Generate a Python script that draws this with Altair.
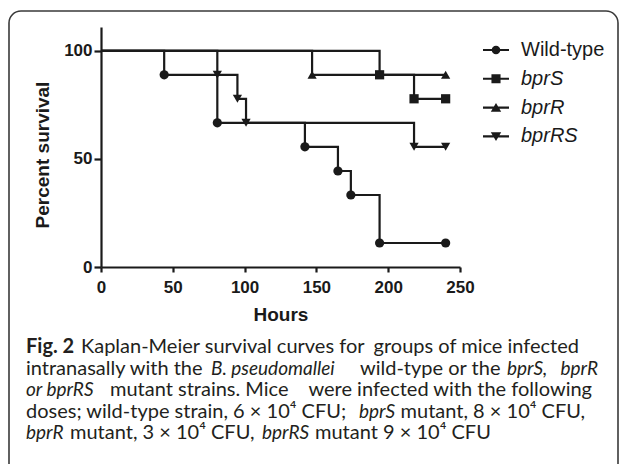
import altair as alt
import pandas as pd

# ---------------- data ----------------
series_names = ["Wild-type", "bprS", "bprR", "bprRS"]
wild_hours = [0, 44, 81, 142, 165, 174, 194, 240]
wild_surv = [100, 88.9, 66.7, 55.6, 44.4, 33.3, 11.1, 11.1]
bprS_hours = [0, 194, 218, 240]
bprS_surv = [100, 88.9, 77.8, 77.8]
bprR_hours = [0, 147, 240]
bprR_surv = [100, 88.9, 88.9]
bprRS_hours = [0, 81, 95, 101, 218, 240]
bprRS_surv = [100, 88.9, 77.8, 66.7, 55.6, 55.6]
x_ticks = [0, 50, 100, 150, 200, 250]
y_ticks = [0, 50, 100]
x_title = "Hours"
y_title = "Percent survival"

caption_segments = [
    ["Fig. 2", "Kaplan-Meier survival curves for", "groups of mice infected"],
    ["intranasally with the", "B. pseudomallei", "wild-type or the", "bprS,", "bprR"],
    ["or bprRS", "mutant strains. Mice", "were infected with the following"],
    ["doses; wild-type strain, 6 \u00d7 10\u2074 CFU;", "bprS", "mutant, 8 \u00d7 10\u2074 CFU,"],
    ["bprR", "mutant, 3 \u00d7 10\u2074 CFU,", "bprRS", "mutant 9 \u00d7 10\u2074 CFU"],
]

# ---------------- layout (page pixels) ----------------
PAD_L, PAD_T = 93, 19
PLOT_W, PLOT_H = 359, 240
SVG_W, SVG_H = 611, 456


def px(x):
    return x - 8 - PAD_L


def py(y):
    return y - 8 - PAD_T


caption_styles = [
    ["bold", "normal", "normal"],
    ["normal", "italic", "normal", "italic", "italic"],
    ["italic", "normal", "normal"],
    ["normal", "italic", "normal"],
    ["italic", "normal", "italic", "normal"],
]
caption_x = [
    [26, 81, 579],
    [26, 211, 360, 507, 598],
    [26, 110, 592],
    [26, 359, 585],
    [26, 70, 262, 315],
]
caption_align = [
    ["left", "left", "right"],
    ["left", "left", "left", "left", "right"],
    ["left", "left", "right"],
    ["left", "left", "right"],
    ["left", "left", "left", "left"],
]
caption_y = [353, 375, 396, 418, 439]

INK = "#1a1a1a"

rows = []
for name, hrs, sv in zip(series_names,
                         [wild_hours, bprS_hours, bprR_hours, bprRS_hours],
                         [wild_surv, bprS_surv, bprR_surv, bprRS_surv]):
    for i, (h, s) in enumerate(zip(hrs, sv)):
        rows.append({"series": name, "hours": h, "survival": s, "step": i})
df = pd.DataFrame(rows)

x_axis = alt.Axis(
    values=x_ticks, format="d", title=x_title, grid=False,
    domainColor=INK, domainWidth=2.2, tickColor=INK, tickWidth=2.2, tickSize=5,
    labelFont="Liberation Sans", labelFontWeight="bold", labelFontSize=17,
    labelColor=INK, labelPadding=7, labelFlush=False,
    titleFont="Liberation Sans", titleFontWeight="bold", titleFontSize=19,
    titleColor=INK, titleY=47, titleBaseline="middle",
)
y_axis = alt.Axis(
    values=y_ticks, format="d", title=y_title, grid=False,
    domainColor=INK, domainWidth=2.2, tickColor=INK, tickWidth=2.2, tickSize=7,
    labelFont="Liberation Sans", labelFontWeight="bold", labelFontSize=17,
    labelColor=INK, labelPadding=2, labelFlush=False,
    titleFont="Liberation Sans", titleFontWeight="bold", titleFontSize=19,
    titleColor=INK, titleX=px(42), titleY=py(154.5), titleBaseline="middle",
    titleAlign="center", titleAngle=270,
)

x_enc = alt.X("hours:Q", scale=alt.Scale(domain=[0, 250], nice=False), axis=x_axis)
y_enc = alt.Y("survival:Q", scale=alt.Scale(domain=[0, 111], nice=False), axis=y_axis)

lines = alt.Chart(df).mark_line(
    interpolate="step-after", color=INK, strokeWidth=2.2
).encode(x=x_enc, y=y_enc, detail="series:N", order="step:Q")

bar = "M-1,-0.08H1V0.08H-1Z"
marker_paths = [
    "M0.33,0A0.33,0.33 0 1,1 -0.33,0A0.33,0.33 0 1,1 0.33,0Z",
    "M-0.35,-0.35H0.35V0.35H-0.35Z",
    "M0,-0.35L0.4,0.31L-0.4,0.31Z",
    "M0,0.35L-0.4,-0.31L0.4,-0.31Z",
]
sym_expr = (
    f"datum.value === '{series_names[0]}' ? '{bar}{marker_paths[0]}' : "
    f"datum.value === '{series_names[1]}' ? '{bar}{marker_paths[1]}' : "
    f"datum.value === '{series_names[2]}' ? '{bar}{marker_paths[2]}' : "
    f"'{bar}{marker_paths[3]}'"
)

legend = alt.Legend(
    title=None, orient="none", legendX=px(483), legendY=py(50) - 13,
    symbolType={"expr": sym_expr}, symbolSize=676, symbolStrokeWidth=0,
    labelFont="Liberation Sans", labelFontSize=20, labelColor=INK,
    labelFontStyle={"expr": f"datum.value === '{series_names[0]}' ? 'normal' : 'italic'"},
    labelOffset=12, rowPadding=5.8, padding=0,
)

# shape scale listed in reverse order so that it stays separate from the legend scale
shape_names = series_names[::-1]
shape_marks = ["triangle-down", "triangle-up", "square", "circle"]

points = alt.Chart(df).transform_filter("datum.step > 0").mark_point(
    filled=True, opacity=1, size=85
).encode(
    x="hours:Q", y="survival:Q",
    shape=alt.Shape("series:N", scale=alt.Scale(domain=shape_names, range=shape_marks),
                    legend=None),
    color=alt.Color("series:N", scale=alt.Scale(
        domain=series_names, range=[INK] * 4), legend=legend),
)

one = alt.Data(values=[{"k": 1}])

border = alt.Chart(one).mark_rect(
    cornerRadius=12, fillOpacity=0, stroke="#3a3a3a", strokeWidth=1.6
).encode(x=alt.value(px(9)), x2=alt.value(px(618)),
         y=alt.value(py(11)), y2=alt.value(py(495)))

caption_layers = []
for segs, styles, xs, aligns, y in zip(caption_segments, caption_styles,
                                       caption_x, caption_align, caption_y):
    for seg, st, x, al in zip(segs, styles, xs, aligns):
        caption_layers.append(
            alt.Chart(one).mark_text(
                align=al, baseline="alphabetic", font="Lato",
                fontSize=19 if st == "italic" else 20,
                fontStyle="italic" if st == "italic" else "normal",
                fontWeight="bold" if st == "bold" else "normal",
                color="#231f20",
            ).encode(x=alt.value(px(x)), y=alt.value(py(y)), text=alt.value(seg))
        )

chart = alt.layer(border, lines, points, *caption_layers).properties(
    width=PLOT_W, height=PLOT_H,
    autosize=alt.AutoSizeParams(type="none"),
    padding={"left": PAD_L, "top": PAD_T,
             "right": SVG_W - PAD_L - PLOT_W, "bottom": SVG_H - PAD_T - PLOT_H},
    background="white",
).configure_view(strokeWidth=0)

chart.save("out.html", embed_options={"renderer": "svg", "actions": False})
